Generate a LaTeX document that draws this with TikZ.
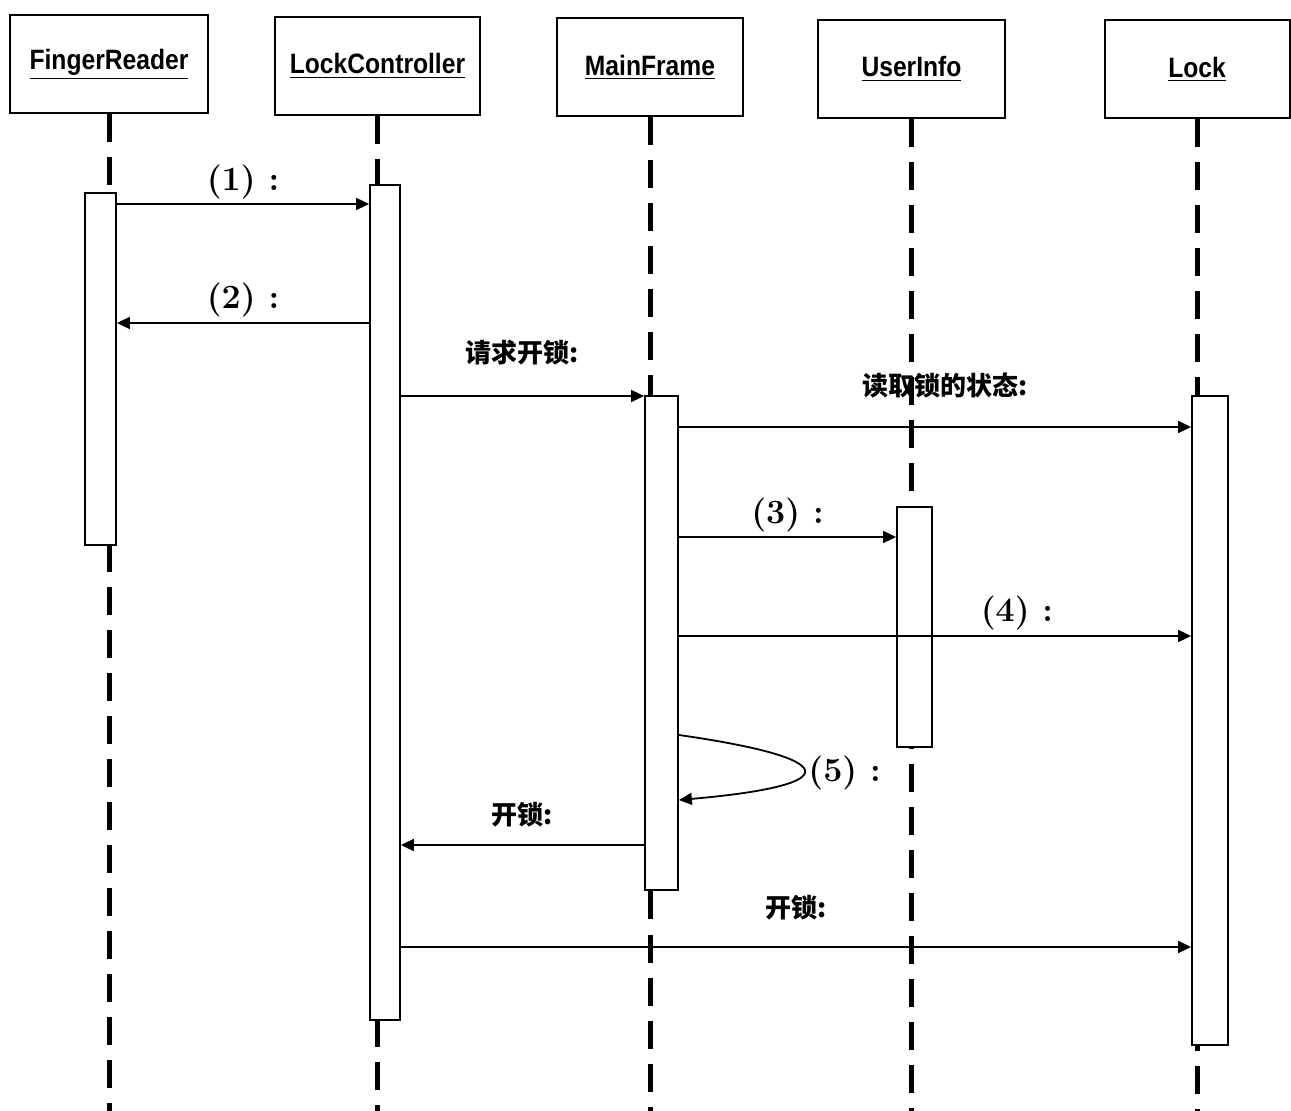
\documentclass[tikz,border=0pt]{standalone}
\usepackage{fontspec}
\setsansfont{Liberation Sans}[FakeStretch=0.88]
\newfontfamily\cjk{Noto Sans CJK SC}
\usetikzlibrary{arrows.meta,fit}
\tikzset{
  >={Triangle[length=6.5pt,width=6pt]},
  head/.style={draw, line width=1pt, minimum height=49pt, inner sep=2pt,
               font=\sffamily\bfseries\fontsize{14}{16}\selectfont},
  life/.style={line width=2.5pt, dash pattern=on 14pt off 7.5pt},
  act/.style={draw, fill=white, line width=0.9pt, inner sep=0pt},
  msg/.style={->, line width=0.9pt},
  num/.style={font=\bfseries\fontsize{17}{19}\selectfont},
  cn/.style={font=\cjk\bfseries\fontsize{13}{15}\selectfont},
}

\begin{document}
\begin{tikzpicture}[x=0.5pt,y=-0.5pt]
  \useasboundingbox (0,0) rectangle (1291,1111);
  \coordinate (bot) at (0,1111);

  % objects
  \node[head, minimum width=99pt]   (fr) at (109,64)    {\underline{FingerReader}};
  \node[head, minimum width=102.5pt] (lc) at (377.5,66) {\underline{LockController}};
  \node[head, minimum width=93pt]   (mf) at (650,67.5)  {\underline{MainFrame}};
  \node[head, minimum width=93.5pt] (ui) at (911.5,69)  {\underline{UserInfo}};
  \node[head, minimum width=92.5pt] (lk) at (1197,69.5) {\underline{Lock}};

  % lifelines
  \foreach \o in {fr,lc,mf,ui,lk}
    \draw[life] (\o.south) -- (\o.south |- bot);

  % activations
  \node[act, fit={(85,193) (116,545)}]    (frA) {};
  \node[act, fit={(370,185) (400,1020)}]  (lcA) {};
  \node[act, fit={(645,396) (678,890)}]   (mfA) {};
  \node[act, fit={(897,507) (932,747)}]   (uiA) {};
  \node[act, fit={(1192,396) (1228,1045)}] (lkA) {};

  % messages
  \draw[msg] (frA.east |- 0,204) -- (lcA.west |- 0,204)
    node[num, midway, yshift=11pt] {(1)\ :};
  \draw[msg] (lcA.west |- 0,323) -- (frA.east |- 0,323)
    node[num, midway, yshift=11.5pt] {(2)\ :};
  \draw[msg] (lcA.east |- 0,396) -- (mfA.west |- 0,396)
    node[cn, midway, yshift=21.5pt] {请求开锁:};
  \draw[msg] (mfA.east |- 0,427) -- (lkA.west |- 0,427)
    node[cn, pos=0.52, yshift=20.5pt] {读取锁的状态:};
  \draw[msg] (mfA.east |- 0,537) -- (uiA.west |- 0,537)
    node[num, midway, yshift=11pt] {(3)\ :};
  \draw[msg] (mfA.east |- 0,636) -- (lkA.west |- 0,636)
    node[num, pos=0.66, yshift=11.5pt] {(4)\ :};
  \draw[msg] (mfA.east |- 0,735) .. controls (840,758) and (850,785) .. (mfA.east |- 0,800);
  \node[num, anchor=west, inner sep=1pt] (self) at (806,773) {(5)\ :};
  \draw[msg] (mfA.west |- 0,845) -- (lcA.east |- 0,845)
    node[cn, midway, yshift=15pt] {开锁:};
  \draw[msg] (lcA.east |- 0,947) -- (lkA.west |- 0,947)
    node[cn, midway, yshift=19.5pt] {开锁:};
\end{tikzpicture}
\end{document}
